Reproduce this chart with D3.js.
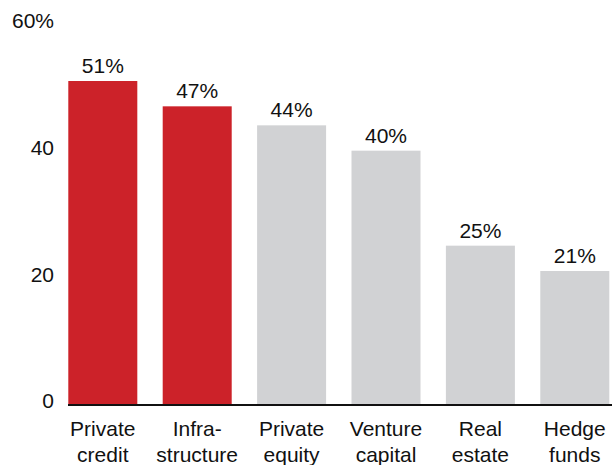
<!DOCTYPE html>
<html>
<head>
<meta charset="utf-8">
<script src="https://cdn.jsdelivr.net/npm/d3@7"></script>
<style>
  html, body { margin: 0; padding: 0; background: #fff; }
  svg { display: block; font-family: "Liberation Sans", Arial, sans-serif; }
</style>
</head>
<body>
<svg id="chart" width="616" height="465"></svg>
<script>
// Asset classes, each label split over two lines
const categories = [
  ["Private", "credit"],
  ["Infra-", "structure"],
  ["Private", "equity"],
  ["Venture", "capital"],
  ["Real", "estate"],
  ["Hedge", "funds"]
];
const values = [51, 47, 44, 40, 25, 21];
const highlighted = [true, true, false, false, false, false];
const yTicks = [0, 20, 40, 60];
const yTickLabels = ["0", "20", "40", "60%"];

const RED = "#cc2229";
const GREY = "#d1d2d4";
const FONT_SIZE = 21;

const svg = d3.select("#chart");
const keys = categories.map((c, i) => i);

const x = d3.scaleBand()
  .domain(keys)
  .range([68.3, 609.3])
  .paddingInner(0.269)
  .paddingOuter(0);

const y = d3.scaleLinear()
  .domain([0, 60])
  .range([404, 24]);

// Y tick labels (no axis line)
const yAxis = d3.axisLeft(y)
  .tickValues(yTicks)
  .tickFormat((d, i) => yTickLabels[i])
  .tickSize(0)
  .tickPadding(0);

const gy = svg.append("g")
  .attr("transform", "translate(54,-3)")
  .call(yAxis);
gy.select(".domain").remove();
gy.selectAll("text")
  .attr("font-size", FONT_SIZE)
  .attr("fill", "#111")
  .attr("font-family", "Liberation Sans, Arial, sans-serif");

// Bars
svg.append("g").selectAll("rect")
  .data(values)
  .join("rect")
  .attr("x", (d, i) => x(i))
  .attr("y", d => y(d))
  .attr("width", x.bandwidth())
  .attr("height", d => y(0) - y(d))
  .attr("fill", (d, i) => highlighted[i] ? RED : GREY);

// Value labels
svg.append("g").selectAll("text")
  .data(values)
  .join("text")
  .attr("x", (d, i) => x(i) + x.bandwidth() / 2)
  .attr("y", d => y(d) - 8)
  .attr("text-anchor", "middle")
  .attr("font-size", FONT_SIZE)
  .attr("fill", "#111")
  .text(d => d + "%");

// Baseline
const xAxis = d3.axisBottom(x).tickSize(0).tickFormat("");
const gx = svg.append("g")
  .attr("transform", "translate(0,405)")
  .call(xAxis);
gx.select(".domain")
  .attr("d", "M68,0H612")
  .attr("stroke", "#111")
  .attr("stroke-width", 2.2);

// Category labels
const catG = svg.append("g").selectAll("text")
  .data(categories)
  .join("text")
  .attr("x", (d, i) => x(i) + x.bandwidth() / 2)
  .attr("y", 436)
  .attr("text-anchor", "middle")
  .attr("font-size", FONT_SIZE)
  .attr("fill", "#111");
catG.selectAll("tspan")
  .data(d => d)
  .join("tspan")
  .attr("x", function () { return d3.select(this.parentNode).attr("x"); })
  .attr("dy", (d, j) => j === 0 ? 0 : 25.5)
  .text(d => d);
</script>
</body>
</html>
